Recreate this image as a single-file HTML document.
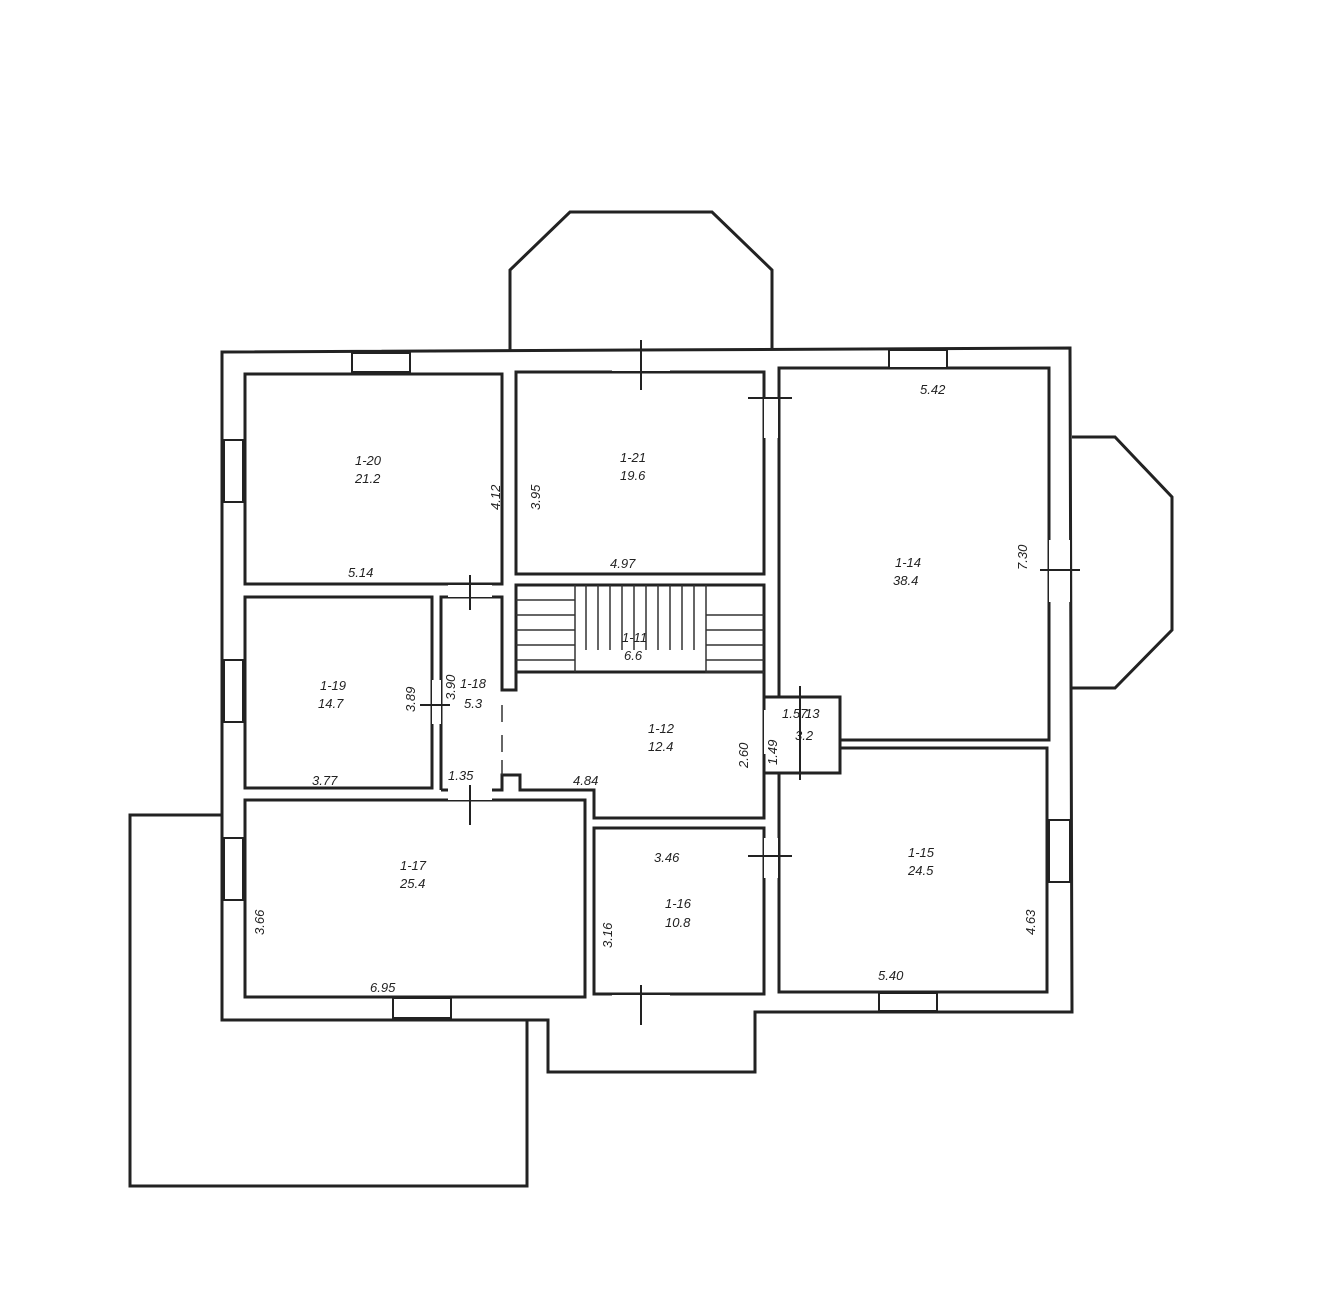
<!DOCTYPE html>
<html><head><meta charset="utf-8"><style>
html,body{margin:0;padding:0;background:#fff;}
svg{display:block}
text{font-family:"Liberation Sans",sans-serif;font-style:italic;font-size:13px;fill:#222}
</style></head><body>
<svg width="1323" height="1300" viewBox="0 0 1323 1300" xmlns="http://www.w3.org/2000/svg">
<rect width="1323" height="1300" fill="#fff"/>
<g fill="none" stroke="#222" stroke-width="3" stroke-linejoin="miter">
<polyline points="510,350 510,270 570,212 712,212 772,270 772,350"/>
<polyline points="1072,437 1115,437 1172,497 1172,630 1115,688 1072,688"/>
<polyline points="222,815 130,815 130,1186 527,1186 527,1020"/>
<path d="M222,352 L1070,348 L1072,1012 L755,1012 L755,1072 L548,1072 L548,1020 L222,1020 Z"/>
<rect x="245" y="374" width="257" height="210"/>
<rect x="516" y="372" width="248" height="202"/>
<polyline points="779,697 779,368 1049,368 1049,740 840,740"/>
<rect x="245" y="597" width="187" height="191"/>
<polyline points="441,790 441,597 502,597 502,690 516,690 516,585 764,585 764,672 764,818 594,818 594,790 520,790 520,775 502,775 502,790 441,790"/>
<polyline points="516,672 764,672"/>
<polyline points="763,697 840,697 840,773 763,773"/>
<polyline points="779,773 779,992 1047,992 1047,748 840,748"/>
<rect x="245" y="800" width="340" height="197"/>
<rect x="594" y="828" width="170" height="166"/>
</g>
<g stroke="#333" stroke-width="1.5" fill="none">
<path d="M516,600 L575,600 L575,672 M575,585 L575,600 M706,585 L706,672 L764,672"/>
<path d="M586,585V650 M598,585V650 M610,585V650 M622,585V650 M634,585V650 M646,585V650 M658,585V650 M670,585V650 M682,585V650 M694,585V650"/>
<path d="M516,615H575 M516,630H575 M516,645H575 M516,660H575 M706,615H764 M706,630H764 M706,645H764 M706,660H764"/>
<path d="M502,705 V722 M502,735 V752 M502,760 V775"/>
</g>
<g stroke="#222" stroke-width="2" fill="#fff">
<rect x="352" y="353" width="58" height="19"/>
<rect x="889" y="350" width="58" height="18"/>
<rect x="224" y="440" width="19" height="62"/>
<rect x="224" y="660" width="19" height="62"/>
<rect x="224" y="838" width="19" height="62"/>
<rect x="1049" y="820" width="21" height="62"/>
<rect x="1049" y="540" width="21" height="62" stroke="none"/>
<rect x="393" y="998" width="58" height="20"/>
<rect x="879" y="993" width="58" height="18"/>
<rect x="612" y="352" width="58" height="19" stroke="none"/>
<rect x="612" y="995" width="58" height="19" stroke="none"/>
<rect x="764" y="398" width="14" height="40" stroke="none"/>
<rect x="764" y="838" width="14" height="40" stroke="none"/>
<rect x="448" y="585" width="44" height="12" stroke="none"/>
<rect x="448" y="788" width="44" height="12" stroke="none"/>
<rect x="432" y="680" width="9" height="44" stroke="none"/>
<rect x="764" y="710" width="15" height="44" stroke="none"/>
</g>
<g stroke="#222" stroke-width="2">
<line x1="641" y1="340" x2="641" y2="390"/><line x1="748" y1="398" x2="792" y2="398"/>
<line x1="641" y1="985" x2="641" y2="1025"/><line x1="748" y1="856" x2="792" y2="856"/>
<line x1="1040" y1="570" x2="1080" y2="570"/><line x1="470" y1="575" x2="470" y2="610"/>
<line x1="470" y1="785" x2="470" y2="825"/><line x1="420" y1="705" x2="450" y2="705"/>
<line x1="800" y1="686" x2="800" y2="780"/>
</g>
<text x="355" y="465">1-20</text><text x="355" y="483">21.2</text>
<text x="620" y="462">1-21</text><text x="620" y="480">19.6</text>
<text x="895" y="567">1-14</text><text x="893" y="585">38.4</text>
<text x="622" y="642">1-11</text><text x="624" y="660">6.6</text>
<text x="648" y="733">1-12</text><text x="648" y="751">12.4</text>
<text x="320" y="690">1-19</text><text x="318" y="708">14.7</text>
<text x="460" y="688">1-18</text><text x="464" y="708">5.3</text>
<text x="782" y="718">1.57</text><text x="805" y="718">13</text><text x="795" y="740">3.2</text>
<text x="908" y="857">1-15</text><text x="908" y="875">24.5</text>
<text x="665" y="908">1-16</text><text x="665" y="927">10.8</text>
<text x="400" y="870">1-17</text><text x="400" y="888">25.4</text>
<text x="348" y="577">5.14</text><text x="610" y="568">4.97</text><text x="920" y="394">5.42</text>
<text x="312" y="785">3.77</text><text x="448" y="780">1.35</text><text x="573" y="785">4.84</text>
<text x="654" y="862">3.46</text><text x="878" y="980">5.40</text><text x="370" y="992">6.95</text>
<text transform="translate(500,510) rotate(-90)">4.12</text>
<text transform="translate(540,510) rotate(-90)">3.95</text>
<text transform="translate(1027,570) rotate(-90)">7.30</text>
<text transform="translate(415,712) rotate(-90)">3.89</text>
<text transform="translate(455,700) rotate(-90)">3.90</text>
<text transform="translate(777,765) rotate(-90)">1.49</text>
<text transform="translate(748,768) rotate(-90)">2.60</text>
<text transform="translate(264,935) rotate(-90)">3.66</text>
<text transform="translate(612,948) rotate(-90)">3.16</text>
<text transform="translate(1035,935) rotate(-90)">4.63</text>
</svg>
</body></html>
